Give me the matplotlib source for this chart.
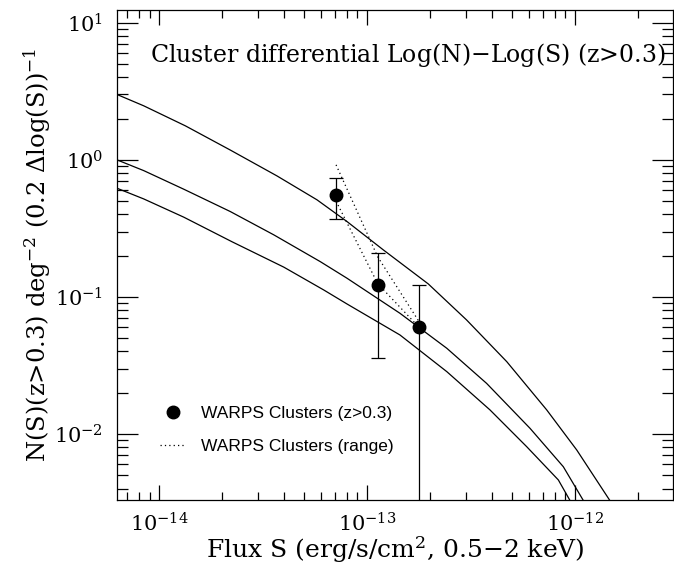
import numpy as np
import matplotlib
matplotlib.use("Agg")
import matplotlib.pyplot as plt
from matplotlib.lines import Line2D
from matplotlib.ticker import LogLocator, FixedLocator, NullFormatter

plt.rcParams["font.family"] = "serif"
plt.rcParams["font.serif"] = ["DejaVu Serif"]
plt.rcParams["mathtext.fontset"] = "dejavuserif"

# ---------------- model curves ----------------
top_flux = [6.28e-15, 8.44e-15, 1.34e-14, 2.20e-14, 3.69e-14, 5.75e-14, 8.01e-14,
            1.20e-13, 1.97e-13, 3.01e-13, 4.70e-13, 7.31e-13, 1.02e-12, 1.55e-12]
top_n = [3.00, 2.48, 1.77, 1.18, 0.764, 0.511, 0.355,
         0.220, 0.1245, 0.068, 0.0337, 0.0150, 0.00764, 0.0029]

mid_flux = [6.28e-15, 8.44e-15, 1.315e-14, 2.20e-14, 3.56e-14, 5.96e-14, 8.01e-14,
            1.44e-13, 2.42e-13, 3.76e-13, 6.08e-13, 8.79e-13, 1.15e-12]
mid_n = [1.00, 0.835, 0.611, 0.420, 0.284, 0.181, 0.137,
         0.076, 0.0422, 0.0234, 0.0110, 0.00577, 0.0029]

low_flux = [6.28e-15, 8.44e-15, 1.315e-14, 2.24e-14, 3.98e-14, 6.19e-14, 8.01e-14,
            1.44e-13, 2.42e-13, 3.90e-13, 5.86e-13, 8.32e-13, 9.9e-13]
low_n = [0.621, 0.519, 0.382, 0.253, 0.165, 0.1125, 0.0889,
         0.0528, 0.0285, 0.0150, 0.00808, 0.00462, 0.0029]

# ---------------- WARPS points ----------------
warps_flux = [7.1e-14, 1.126e-13, 1.78e-13]
warps_n = [0.555, 0.122, 0.0607]
warps_lo = [0.371, 0.036, 1e-4]
warps_hi = [0.739, 0.208, 0.1217]

# range (dotted)
range_up = [0.92, 0.196, 0.066]
range_low = [0.50, 0.125, 0.060]

x_major = [1e-14, 1e-13, 1e-12]
y_major = [1e-2, 1e-1, 1e0, 1e1]

# ==========================================================
fig = plt.figure(figsize=(6.74, 5.68), dpi=100)
ax = fig.add_axes([117 / 674, 1 - 500 / 568, 556 / 674, 490 / 568])

for fx, nn in [(top_flux, top_n), (mid_flux, mid_n), (low_flux, low_n)]:
    ax.plot(fx, nn, color="black", lw=0.9)

dots = (0, (1, 2.5))
ax.plot(warps_flux, range_up, color="black", lw=0.9, ls=dots)
ax.plot(warps_flux, range_low, color="black", lw=0.9, ls=dots)

yerr = [np.array(warps_n) - np.array(warps_lo), np.array(warps_hi) - np.array(warps_n)]
ax.errorbar(warps_flux, warps_n, yerr=yerr, fmt="o", color="black", ms=9,
            ecolor="black", elinewidth=0.9, capsize=5, capthick=0.9)

ax.set_xscale("log")
ax.set_yscale("log")
ax.set_xlim(6.28e-15, 2.96e-12)
ax.set_ylim(3.3e-3, 12.4)

ax.xaxis.set_major_locator(FixedLocator(x_major))
ax.xaxis.set_minor_locator(LogLocator(base=10, subs=np.arange(2, 10), numticks=20))
ax.yaxis.set_major_locator(FixedLocator(y_major))
ax.yaxis.set_minor_locator(LogLocator(base=10, subs=np.arange(2, 10), numticks=20))
ax.xaxis.set_minor_formatter(NullFormatter())
ax.yaxis.set_minor_formatter(NullFormatter())

ax.tick_params(which="both", direction="in", top=True, right=True, width=0.9,
               labelsize=15, color="black")
ax.tick_params(axis="x", which="major", length=11, pad=9)
ax.tick_params(axis="x", which="minor", length=6)
ax.tick_params(axis="y", which="major", length=15, pad=10)
ax.tick_params(axis="y", which="minor", length=8)
for sp in ax.spines.values():
    sp.set_linewidth(0.9)

ax.set_xlabel(r"Flux S (erg/s/cm$^2$, 0.5$-$2 keV)", fontsize=18, labelpad=-1)
ax.set_ylabel(r"N(S)(z>0.3) deg$^{-2}$ (0.2 $\Delta$log(S))$^{-1}$", fontsize=17.5,
              labelpad=1)

ax.text(0.987, 0.908, r"Cluster differential Log(N)$-$Log(S) (z>0.3)",
        transform=ax.transAxes, ha="right", va="center", fontsize=17)

handles = [Line2D([], [], ls="none", marker="o", color="black", ms=9),
           Line2D([], [], color="black", lw=0.9, ls=dots)]
ax.legend(handles, ["WARPS Clusters (z>0.3)", "WARPS Clusters (range)"],
          loc="upper left", bbox_to_anchor=(0.077, 0.192), frameon=False,
          prop={"family": "Liberation Sans", "size": 12.5},
          handlelength=1.5, handletextpad=0.85, labelspacing=1.05,
          borderpad=0, borderaxespad=0)

fig.savefig("out.png", dpi=100)
